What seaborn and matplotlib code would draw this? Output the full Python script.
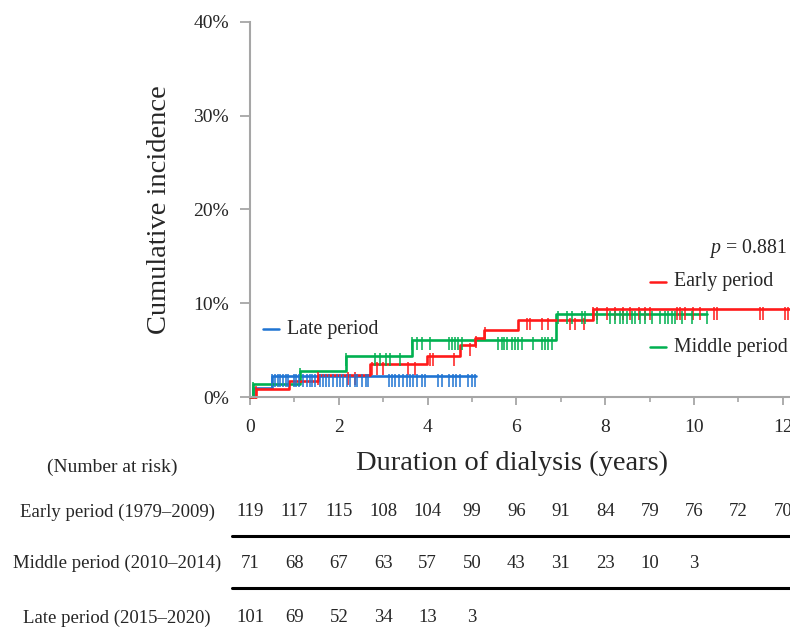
import numpy as np
import pandas as pd
import matplotlib
matplotlib.use("Agg")
import matplotlib.pyplot as plt
import seaborn as sns
from matplotlib.ticker import MultipleLocator
from matplotlib.transforms import blended_transform_factory
from matplotlib.lines import Line2D

# step curves: time of each step (years) and cumulative incidence after it (%)
early_t = [0, 0.13, 0.88, 1.53, 2.70, 3.98, 4.73, 5.07, 5.26, 6.04, 7.72]
early_y = [0, 0.9, 1.7, 2.4, 3.5, 4.4, 5.5, 6.3, 7.2, 8.2, 9.35]
early_end = 12.2

middle_t = [0, 0.06, 1.13, 2.16, 3.64, 6.89]
middle_y = [0, 1.35, 2.8, 4.4, 6.1, 8.9]
middle_end = 10.3

late_t = [0, 0.06, 0.49]
late_y = [0, 1.0, 2.2]
late_end = 5.09

# censoring marks (years)
early_cens = [0.13, 1.53, 2.2, 2.36, 2.75, 2.85, 3.0, 3.55, 3.72, 4.05, 4.12, 4.6, 4.95,
              5.1, 5.3, 6.23, 6.31, 6.57, 6.72, 7.21, 7.32, 7.51, 7.72, 7.81, 8.05, 8.22,
              8.4, 8.56, 8.75, 8.9, 9.01, 9.61, 9.68, 9.80, 9.98, 10.14, 10.44, 10.51,
              11.49, 11.56, 12.05, 12.12]
middle_cens = [0.06, 1.13, 2.16, 2.82, 2.93, 3.06, 3.15, 3.38, 3.64, 3.75, 3.87, 4.05, 4.47,
               4.54, 4.62, 4.69, 4.77, 5.59, 5.67, 5.71, 5.78, 5.89, 5.97, 6.04, 6.12, 6.38,
               6.57, 6.64, 6.72, 6.79, 6.94, 7.13, 7.24, 7.47, 7.55, 7.81, 8.11, 8.22, 8.33,
               8.41, 8.48, 8.60, 8.67, 8.78, 8.90, 9.05, 9.23, 9.35, 9.42, 9.50, 9.57, 9.72,
               9.95, 10.30]
late_cens = [0.49, 0.56, 0.62, 0.68, 0.74, 0.80, 0.86, 0.98, 1.04, 1.11, 1.20, 1.28, 1.34,
             1.39, 1.46, 1.58, 1.65, 1.71, 1.79, 1.86, 1.95, 2.03, 2.10, 2.18, 2.25, 2.36,
             2.42, 2.52, 2.61, 2.66, 3.12, 3.19, 3.27, 3.36, 3.45, 3.53, 3.60, 3.68, 3.75,
             3.87, 3.94, 4.24, 4.32, 4.47, 4.58, 4.65, 4.73, 4.92, 4.99, 5.07]

# number at risk, yearly from 0
risk_years = list(range(13))
early_risk = [119, 117, 115, 108, 104, 99, 96, 91, 84, 79, 76, 72, 70]
middle_risk = [71, 68, 67, 63, 57, 50, 43, 31, 23, 10, 3]
late_risk = [101, 69, 52, 34, 13, 3]

row_names = ["Early period (1979\u20132009)", "Middle period (2010\u20132014)",
             "Late period (2015\u20132020)"]
colors = {"Early period": "#FF1A1A", "Middle period": "#00B050", "Late period": "#1F74D2"}

sns.set_style("ticks")
plt.rcParams["font.family"] = ["Liberation Serif", "DejaVu Serif"]
plt.rcParams["mathtext.fontset"] = "custom"
plt.rcParams["mathtext.it"] = "Liberation Serif:italic"
plt.rcParams["mathtext.rm"] = "Liberation Serif"

groups = {
    "Early period": (early_t, early_y, early_end, early_cens),
    "Middle period": (middle_t, middle_y, middle_end, middle_cens),
    "Late period": (late_t, late_y, late_end, late_cens),
}

frames = []
for name, (t, y, end, _) in groups.items():
    frames.append(pd.DataFrame({"time": t + [end], "inc": y + [y[-1]], "group": name}))
df = pd.concat(frames, ignore_index=True)

fig = plt.figure(figsize=(7.9, 6.36), dpi=100)
ax = fig.add_axes([250 / 790, 239 / 636, 540 / 790, 375 / 636])

sns.lineplot(data=df, x="time", y="inc", hue="group", palette=colors,
             hue_order=["Late period", "Middle period", "Early period"],
             drawstyle="steps-post", estimator=None, sort=False, legend=False,
             linewidth=1.9, ax=ax, clip_on=False)

# censoring ticks hang slightly below the curve
for name, (t, y, end, cens) in groups.items():
    c = np.array(cens)
    lvl = np.array(y)[np.searchsorted(t, c, side="right") - 1]
    ax.vlines(c, lvl - 1.1, lvl + 0.25, color=colors[name], linewidth=1.1, clip_on=False)

ax.set_xlim(0, 12.16)
ax.set_ylim(0, 40)
ax.set_yticks([0, 10, 20, 30, 40])
ax.set_yticklabels(["0%", "10%", "20%", "30%", "40%"])
ax.set_xticks([0, 2, 4, 6, 8, 10, 12])
ax.xaxis.set_minor_locator(MultipleLocator(1))
sns.despine(ax=ax)
for s in ["left", "bottom"]:
    ax.spines[s].set_color("#A6A6A6")
    ax.spines[s].set_linewidth(1.5)
ax.tick_params(axis="y", length=7, width=1.3, color="#A6A6A6", pad=8, labelsize=14)
ax.tick_params(axis="x", which="major", length=6, width=1.3, color="#A6A6A6", pad=10, labelsize=14)
ax.tick_params(axis="x", which="minor", length=3.5, width=1.2, color="#A6A6A6")

ax.set_ylabel("Cumulative incidence", fontsize=20.5)
ax.yaxis.set_label_coords(-0.145, 0.5)
ax.set_xlabel("Duration of dialysis (years)", fontsize=20.5)
ax.xaxis.set_label_coords(0.485, -0.176)
ax.xaxis.label.set_va("center")

# legend labels placed next to curves
leg_pos = {"Late period": (0.024, 0.181), "Early period": (0.741, 0.307),
           "Middle period": (0.741, 0.133)}
for name, (lx, ly) in leg_pos.items():
    ax.plot([lx, lx + 0.029], [ly, ly], color=colors[name], linewidth=1.8,
            transform=ax.transAxes, clip_on=False)
    ax.text(lx + 0.044, ly, name, transform=ax.transAxes, fontsize=14.3,
            va="center", ha="left")
ax.text(0.993, 0.397, r"$p$ = 0.881", transform=ax.transAxes, fontsize=14.3,
        ha="right", va="center")

# number at risk table
tr = blended_transform_factory(ax.transData, fig.transFigure)
fig.text(112 / 790, 1 - 467 / 636, "(Number at risk)", fontsize=14, ha="center", va="center")
row_y = [1 - 512 / 636, 1 - 563 / 636, 1 - 618 / 636]
for label, counts, ry in zip(row_names, [early_risk, middle_risk, late_risk], row_y):
    fig.text(117 / 790, ry, label, fontsize=13.5, ha="center", va="center")
    for yr, n in zip(risk_years, counts):
        ax.text(yr, ry, str(n), transform=tr, fontsize=13.5, ha="center", va="center",
                clip_on=False)
for ly in [1 - 536 / 636, 1 - 588 / 636]:
    fig.add_artist(Line2D([232 / 790, 1.0], [ly, ly], color="black", linewidth=2.2,
                          transform=fig.transFigure))

fig.savefig("out.png", dpi=100)
